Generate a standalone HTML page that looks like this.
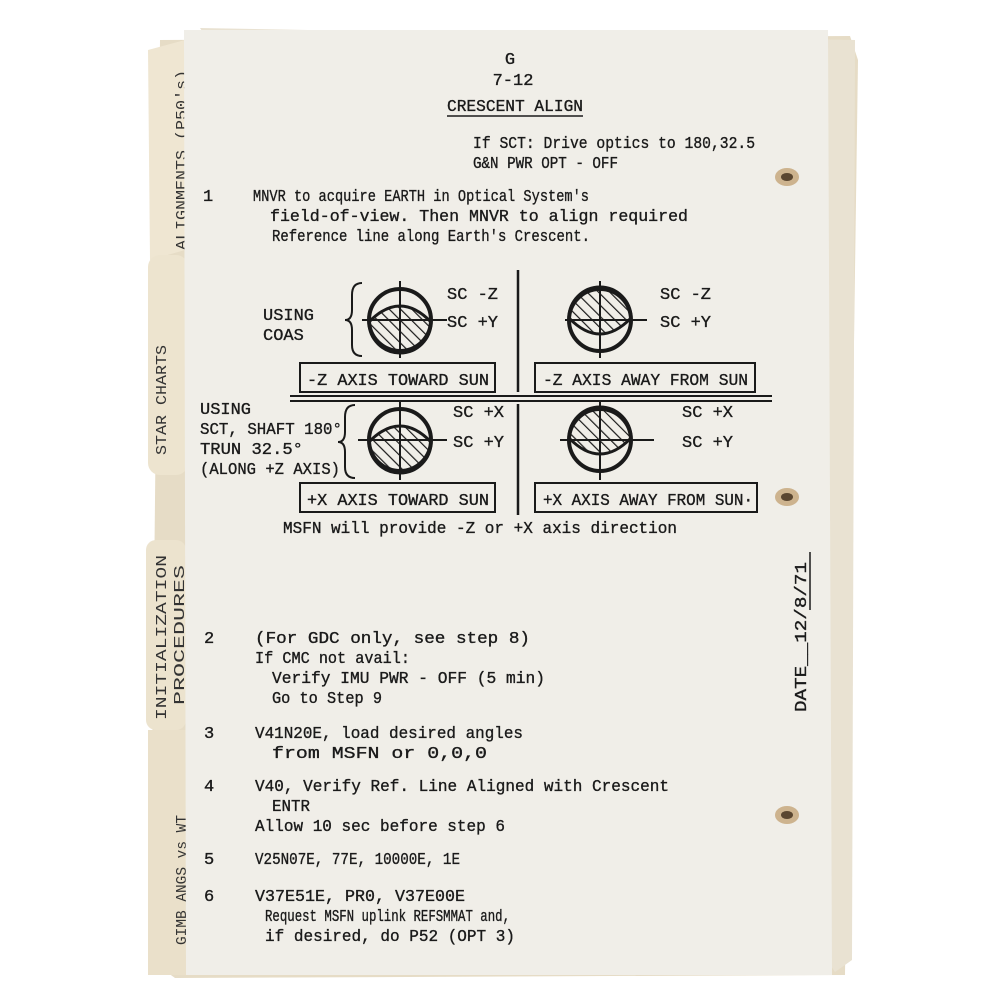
<!DOCTYPE html>
<html><head><meta charset="utf-8"><style>
html,body{margin:0;padding:0;background:#fff;width:1000px;height:1000px;overflow:hidden}
text{font-family:"Liberation Mono",monospace;font-size:17px;fill:#1a1a1a;stroke:#1a1a1a;stroke-width:0.35}
</style></head><body>
<svg width="1000" height="1000" viewBox="0 0 1000 1000" xmlns="http://www.w3.org/2000/svg">
<defs>
<pattern id="h" width="8" height="8" patternUnits="userSpaceOnUse" patternTransform="rotate(-45)">
<line x1="0" y1="0" x2="0" y2="8" stroke="#1a1a1a" stroke-width="2.4"/>
</pattern>
</defs>
<path d="M160 40 L850 36 L858 60 L845 975 L175 978 L150 960 Z" fill="#e6dcc6"/>
<path d="M200 28 L855 40 L852 960 L835 972 Z" fill="#e9e2d2"/>
<path d="M148 50 L185 40 L185 250 L150 260 Z" fill="#efe6d2"/>
<rect x="148" y="255" width="40" height="220" rx="12" fill="#ede4cf"/>
<rect x="146" y="540" width="40" height="190" rx="10" fill="#ece3ce"/>
<rect x="148" y="730" width="40" height="245" fill="#eae0ca"/>
<g style="font-size:15px">
<text transform="translate(186,250) rotate(-90)" lengthAdjust="spacingAndGlyphs" textLength="180" style="font-size:15px;fill:#333;stroke:none">ALIGNMENTS (P50's)</text>
<text transform="translate(166,455) rotate(-90)" lengthAdjust="spacingAndGlyphs" textLength="110" style="font-size:15px;fill:#333;stroke:none">STAR CHARTS</text>
<text transform="translate(166,720) rotate(-90)" lengthAdjust="spacingAndGlyphs" textLength="165" style="font-size:15px;fill:#333;stroke:none">INITIALIZATION</text>
<text transform="translate(184,705) rotate(-90)" lengthAdjust="spacingAndGlyphs" textLength="140" style="font-size:15px;fill:#333;stroke:none">PROCEDURES</text>
<text transform="translate(186,945) rotate(-90)" lengthAdjust="spacingAndGlyphs" textLength="130" style="font-size:15px;fill:#333;stroke:none">GIMB ANGS vs WT</text>
</g>
<path d="M184 30 L828 30 L832 975 L186 975 Z" fill="#f0eee8"/>
<ellipse cx="787" cy="177" rx="12" ry="9" fill="#cdb38e"/><ellipse cx="787" cy="177" rx="6" ry="4" fill="#5a4630"/>
<ellipse cx="787" cy="497" rx="12" ry="9" fill="#cdb38e"/><ellipse cx="787" cy="497" rx="6" ry="4" fill="#5a4630"/>
<ellipse cx="787" cy="815" rx="12" ry="9" fill="#cdb38e"/><ellipse cx="787" cy="815" rx="6" ry="4" fill="#5a4630"/>

<text x="510" y="64" text-anchor="middle">G</text>
<text x="513" y="85" text-anchor="middle">7-12</text>
<text x="447" y="111" lengthAdjust="spacingAndGlyphs" textLength="136">CRESCENT ALIGN</text>
<line x1="447" y1="116" x2="583" y2="116" stroke="#1a1a1a" stroke-width="1.5"/>
<text x="473" y="148" lengthAdjust="spacingAndGlyphs" textLength="282">If SCT: Drive optics to 180,32.5</text>
<text x="473" y="168" lengthAdjust="spacingAndGlyphs" textLength="145">G&amp;N PWR OPT - OFF</text>
<text x="203" y="201">1</text>
<text x="253" y="201" lengthAdjust="spacingAndGlyphs" textLength="336">MNVR to acquire EARTH in Optical System's</text>
<text x="270" y="221" lengthAdjust="spacingAndGlyphs" textLength="418">field-of-view.  Then MNVR to align required</text>
<text x="272" y="241" lengthAdjust="spacingAndGlyphs" textLength="318">Reference line along Earth's Crescent.</text>

<g stroke="#1a1a1a" fill="none">
<line x1="518" y1="270" x2="518" y2="392" stroke-width="2.5"/>
<line x1="518" y1="404" x2="518" y2="515" stroke-width="2.5"/>
<line x1="290" y1="396" x2="772" y2="396" stroke-width="2"/>
<line x1="290" y1="401" x2="772" y2="401" stroke-width="2"/>
<rect x="300" y="363" width="195" height="29" stroke-width="2"/>
<rect x="535" y="363" width="220" height="29" stroke-width="2"/>
<rect x="300" y="483" width="195" height="29" stroke-width="2"/>
<rect x="535" y="483" width="222" height="29" stroke-width="2"/>
<path d="M362 283 Q352 283 352 295 L352 310 Q352 320 345 320 Q352 320 352 330 L352 345 Q352 356 362 356" stroke-width="2"/>
<path d="M355 405 Q345 405 345 417 L345 432 Q345 442 338 442 Q345 442 345 452 L345 467 Q345 478 355 478" stroke-width="2"/>
</g>
<g stroke="#1a1a1a" stroke-width="4">
<path d="M369 322 Q400 290 431 322 A31 31 0 0 1 369 322 Z" fill="url(#h)" stroke-width="3"/>
<circle cx="400" cy="320" r="31" fill="none"/>
<line x1="362" y1="320" x2="447" y2="320" stroke-width="2"/><line x1="400" y1="281" x2="400" y2="358" stroke-width="2"/>

<path d="M569 318 A31 31 0 0 1 631 318 Q600 350 569 318 Z" fill="url(#h)" stroke-width="3"/>
<circle cx="600" cy="320" r="31" fill="none"/>
<line x1="565" y1="320" x2="647" y2="320" stroke-width="2"/><line x1="600" y1="281" x2="600" y2="358" stroke-width="2"/>

<path d="M369 442 Q400 410 431 442 A31 31 0 0 1 369 442 Z" fill="url(#h)" stroke-width="3"/>
<circle cx="400" cy="440" r="31" fill="none"/>
<line x1="358" y1="440" x2="447" y2="440" stroke-width="2"/><line x1="400" y1="402" x2="400" y2="480" stroke-width="2"/>

<path d="M569 438 A31 31 0 0 1 631 438 Q600 470 569 438 Z" fill="url(#h)" stroke-width="3"/>
<circle cx="600" cy="440" r="31" fill="none"/>
<line x1="560" y1="440" x2="654" y2="440" stroke-width="2"/><line x1="600" y1="402" x2="600" y2="480" stroke-width="2"/>
</g>
<text x="447" y="299">SC -Z</text><text x="447" y="327">SC +Y</text>
<text x="660" y="299">SC -Z</text><text x="660" y="327">SC +Y</text>
<text x="453" y="417">SC +X</text><text x="453" y="447">SC +Y</text>
<text x="682" y="417">SC +X</text><text x="682" y="447">SC +Y</text>
<text x="263" y="320">USING</text><text x="263" y="340">COAS</text>
<text x="200" y="414">USING</text>
<text x="200" y="434" lengthAdjust="spacingAndGlyphs" textLength="142">SCT, SHAFT 180°</text>
<text x="200" y="454" lengthAdjust="spacingAndGlyphs" textLength="103">TRUN 32.5°</text>
<text x="200" y="474" lengthAdjust="spacingAndGlyphs" textLength="140">(ALONG +Z AXIS)</text>
<text x="307" y="385" lengthAdjust="spacingAndGlyphs" textLength="182">-Z AXIS TOWARD SUN</text>
<text x="543" y="385" lengthAdjust="spacingAndGlyphs" textLength="205">-Z AXIS AWAY FROM SUN</text>
<text x="307" y="505" lengthAdjust="spacingAndGlyphs" textLength="182">+X AXIS TOWARD SUN</text>
<text x="543" y="505" lengthAdjust="spacingAndGlyphs" textLength="210">+X AXIS AWAY FROM SUN·</text>
<text x="283" y="533" lengthAdjust="spacingAndGlyphs" textLength="394">MSFN will provide -Z or +X axis direction</text>

<text transform="translate(806,712) rotate(-90)" lengthAdjust="spacingAndGlyphs" textLength="150">DATE__12/8/71</text>
<line x1="810" y1="610" x2="810" y2="552" stroke="#1a1a1a" stroke-width="1.5"/>

<text x="204" y="643">2</text>
<text x="255" y="643" lengthAdjust="spacingAndGlyphs" textLength="275">(For GDC only, see step 8)</text>
<text x="255" y="663" lengthAdjust="spacingAndGlyphs" textLength="155">If CMC not avail:</text>
<text x="272" y="683" lengthAdjust="spacingAndGlyphs" textLength="273">Verify IMU PWR - OFF (5 min)</text>
<text x="272" y="703" lengthAdjust="spacingAndGlyphs" textLength="110">Go to Step 9</text>
<text x="204" y="738">3</text>
<text x="255" y="738" lengthAdjust="spacingAndGlyphs" textLength="268">V41N20E, load desired angles</text>
<text x="272" y="758" lengthAdjust="spacingAndGlyphs" textLength="215">from MSFN or 0,0,0</text>
<text x="204" y="791">4</text>
<text x="255" y="791" lengthAdjust="spacingAndGlyphs" textLength="414">V40, Verify Ref. Line Aligned with Crescent</text>
<text x="272" y="811" lengthAdjust="spacingAndGlyphs" textLength="38">ENTR</text>
<text x="255" y="831" lengthAdjust="spacingAndGlyphs" textLength="250">Allow 10 sec before step 6</text>
<text x="204" y="864">5</text>
<text x="255" y="864" lengthAdjust="spacingAndGlyphs" textLength="205">V25N07E, 77E, 10000E, 1E</text>
<text x="204" y="901">6</text>
<text x="255" y="901" lengthAdjust="spacingAndGlyphs" textLength="210">V37E51E, PR0, V37E00E</text>
<text x="265" y="921" lengthAdjust="spacingAndGlyphs" textLength="245">Request MSFN uplink REFSMMAT and,</text>
<text x="265" y="941" lengthAdjust="spacingAndGlyphs" textLength="250">if desired, do P52 (OPT 3)</text>
</svg>
</body></html>
